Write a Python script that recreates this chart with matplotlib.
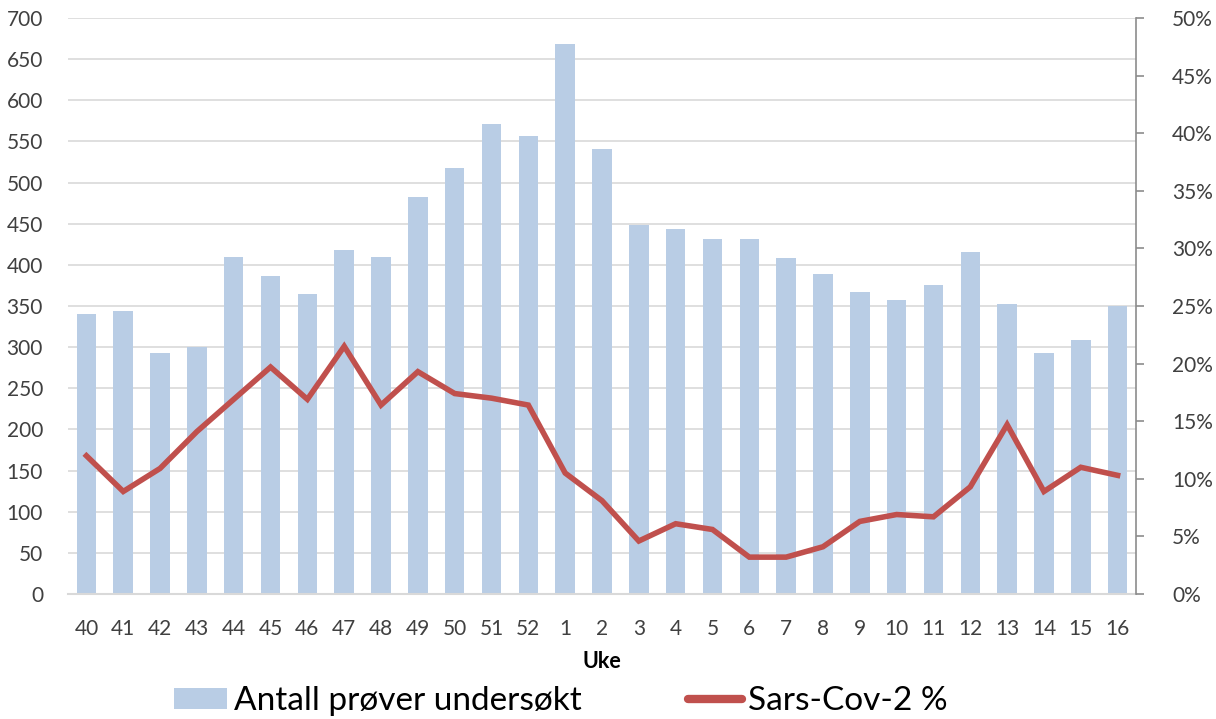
import matplotlib
matplotlib.use("Agg")
import matplotlib.pyplot as plt
from matplotlib.ticker import FuncFormatter, MultipleLocator
from matplotlib.lines import Line2D
from matplotlib.patches import Patch

weeks = ["40","41","42","43","44","45","46","47","48","49","50","51","52",
         "1","2","3","4","5","6","7","8","9","10","11","12","13","14","15","16"]
tests = [340,344,293,300,409,387,365,418,409,483,518,571,557,
         669,541,448,444,432,431,408,389,367,357,375,416,353,293,309,350]
pct = [12.0,8.9,10.9,14.1,16.9,19.7,16.9,21.5,16.4,19.3,17.4,17.0,16.4,
       10.5,8.1,4.6,6.1,5.6,3.2,3.2,4.1,6.3,6.9,6.7,9.3,14.7,8.9,11.0,10.3]

plt.rcParams['font.family'] = ['Lato', 'DejaVu Sans']

fig = plt.figure(figsize=(12.16, 7.19), dpi=100)
W, H = 1216, 719
ax = fig.add_axes([68/W, (H-594)/H, (1136-68)/W, (594-18)/H])
x = list(range(len(weeks)))
bars = ax.bar(x, tests, width=0.53, color="#B9CDE5", zorder=2)
ax.set_xlim(-0.5, len(weeks)-0.5)
ax.set_ylim(0, 700)
ax.yaxis.set_major_locator(MultipleLocator(50))
ax.grid(axis='y', color="#D9D9D9", linewidth=1.2, zorder=0)
ax.set_axisbelow(True)
for s in ['top', 'right', 'left']:
    ax.spines[s].set_visible(False)
ax.spines['bottom'].set_color("#D9D9D9")
ax.spines['bottom'].set_linewidth(1.5)
ax.tick_params(axis='y', length=0, pad=18, labelsize=15, labelcolor="#404040")
ax.tick_params(axis='x', length=0, pad=18, labelsize=15, labelcolor="#404040")
ax.set_xticks(x)
ax.set_xticklabels(weeks)
ax.set_xlabel("Uke", fontsize=15.5, fontweight='bold', labelpad=9)

ax2 = ax.twinx()
ax2.plot(x, pct, color="#C0504D", linewidth=4, solid_joinstyle='miter', zorder=3)
ax2.set_ylim(0, 50)
ax2.yaxis.set_major_locator(MultipleLocator(5))
ax2.yaxis.set_major_formatter(FuncFormatter(lambda v, p: f"{int(round(v))}%"))
for s in ['top', 'left', 'bottom']:
    ax2.spines[s].set_visible(False)
ax2.spines['right'].set_color("#8C8C8C")
ax2.spines['right'].set_linewidth(1.2)
ax2.tick_params(axis='y', direction='out', length=6, width=1.2, color="#8C8C8C",
                pad=20, labelsize=15, labelcolor="#404040")

h1 = Patch(facecolor="#B9CDE5", edgecolor="none")
h2 = Line2D([], [], color="#C0504D", linewidth=6, solid_capstyle='round')
fig.legend(handles=[h1, h2], labels=["Antall prøver undersøkt", "Sars-Cov-2 %"],
           loc='center', bbox_to_anchor=(561/W, 1-701/H), ncol=2, frameon=False,
           fontsize=24, handlelength=1.6, handletextpad=0.2, columnspacing=3.2,
           handleheight=0.6, borderpad=0, borderaxespad=0)

fig.savefig("out.png", dpi=100)
